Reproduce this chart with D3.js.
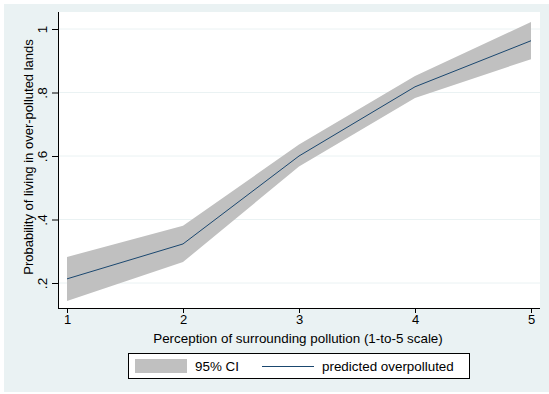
<!DOCTYPE html>
<html><head><meta charset="utf-8">
<script src="https://cdn.jsdelivr.net/npm/d3@7"></script>
<style>body{margin:0;background:#fff}svg{display:block;font-family:"Liberation Sans",Arial,sans-serif}</style>
</head><body>
<script>
const categories = [1, 2, 3, 4, 5];
const predicted = [0.213, 0.323, 0.600, 0.818, 0.963];
const ciLower = [0.143, 0.266, 0.567, 0.783, 0.905];
const ciUpper = [0.282, 0.380, 0.636, 0.852, 1.022];
const yTicks = [0.2, 0.4, 0.6, 0.8, 1];
const yTickLabels = [".2", ".4", ".6", ".8", "1"];
const xTitle = "Perception of surrounding pollution (1-to-5 scale)";
const yTitle = "Probability of living in over-polluted lands";
const legendLabels = ["95% CI", "predicted overpolluted"];

const W = 549, H = 394;
const svg = d3.select("body").append("svg").attr("width", W).attr("height", H);
svg.append("rect").attr("x", 4).attr("y", 4).attr("width", W - 4).attr("height", H - 6).attr("fill", "#eaf2f3");

const pl = 58, pr = 540, pt = 12, pb = 308;
svg.append("rect").attr("x", pl).attr("y", pt).attr("width", pr - pl).attr("height", pb - pt).attr("fill", "#fff");

const x = d3.scaleLinear().domain([1, 5]).range([67, 531]);
const y = d3.scaleLinear().domain([0.2, 1]).range([283, 29]);

// gridlines
svg.append("g").selectAll("line").data(yTicks).join("line")
  .attr("x1", pl).attr("x2", pr).attr("y1", d => y(d)).attr("y2", d => y(d))
  .attr("stroke", "#eaf2f3").attr("stroke-width", 1);

const data = categories.map((c, i) => ({x: c, m: predicted[i], lo: ciLower[i], hi: ciUpper[i]}));
svg.append("path").datum(data)
  .attr("d", d3.area().x(d => x(d.x)).y0(d => y(d.lo)).y1(d => y(d.hi)))
  .attr("fill", "#c0c0c0");
svg.append("path").datum(data)
  .attr("d", d3.line().x(d => x(d.x)).y(d => y(d.m)))
  .attr("fill", "none").attr("stroke", "#1a476f").attr("stroke-width", 1);

// axes
const yAxis = d3.axisLeft(y).tickValues(yTicks).tickFormat((d, i) => yTickLabels[i]).tickSize(6).tickSizeOuter(0);
const gy = svg.append("g").attr("transform", `translate(${pl},0)`).call(yAxis);
gy.select(".domain").remove();
svg.append("line").attr("x1", pl + 0.5).attr("x2", pl + 0.5).attr("y1", pt).attr("y2", pb).attr("stroke", "#000");
gy.selectAll(".tick line").attr("stroke", "#000");
gy.selectAll(".tick text").attr("font-size", 13.5).attr("fill", "#000")
  .attr("transform", "rotate(-90)")
  .attr("x", 0).attr("y", -11.5).attr("dy", "0").attr("text-anchor", "middle");

const xAxis = d3.axisBottom(x).tickValues(categories).tickFormat(d3.format("d")).tickSize(5).tickSizeOuter(0);
const gx = svg.append("g").attr("transform", `translate(0,${pb})`).call(xAxis);
gx.select(".domain").remove();
svg.append("line").attr("x1", pl).attr("x2", pr).attr("y1", pb + 0.5).attr("y2", pb + 0.5).attr("stroke", "#000");
gx.selectAll(".tick line").attr("stroke", "#000");
gx.selectAll(".tick text").attr("font-size", 13).attr("fill", "#000").attr("y", 7);

svg.append("text").attr("x", 298).attr("y", 343).attr("text-anchor", "middle")
  .attr("font-size", 13.4).attr("fill", "#000").text(xTitle);
svg.append("text").attr("transform", `translate(33,157) rotate(-90)`).attr("text-anchor", "middle")
  .attr("font-size", 13).attr("fill", "#000").text(yTitle);

// legend
const lg = svg.append("g");
lg.append("rect").attr("x", 128.5).attr("y", 353.5).attr("width", 341).attr("height", 25).attr("fill", "#fff").attr("stroke", "#000");
lg.append("rect").attr("x", 135).attr("y", 359).attr("width", 52).attr("height", 14).attr("fill", "#c0c0c0");
lg.append("text").attr("x", 195).attr("y", 371).attr("font-size", 13.4).attr("fill", "#000").text(legendLabels[0]);
lg.append("line").attr("x1", 262).attr("x2", 314).attr("y1", 366.5).attr("y2", 366.5).attr("stroke", "#1a476f");
lg.append("text").attr("x", 322).attr("y", 371).attr("font-size", 13.4).attr("fill", "#000").text(legendLabels[1]);
</script>
</body></html>
